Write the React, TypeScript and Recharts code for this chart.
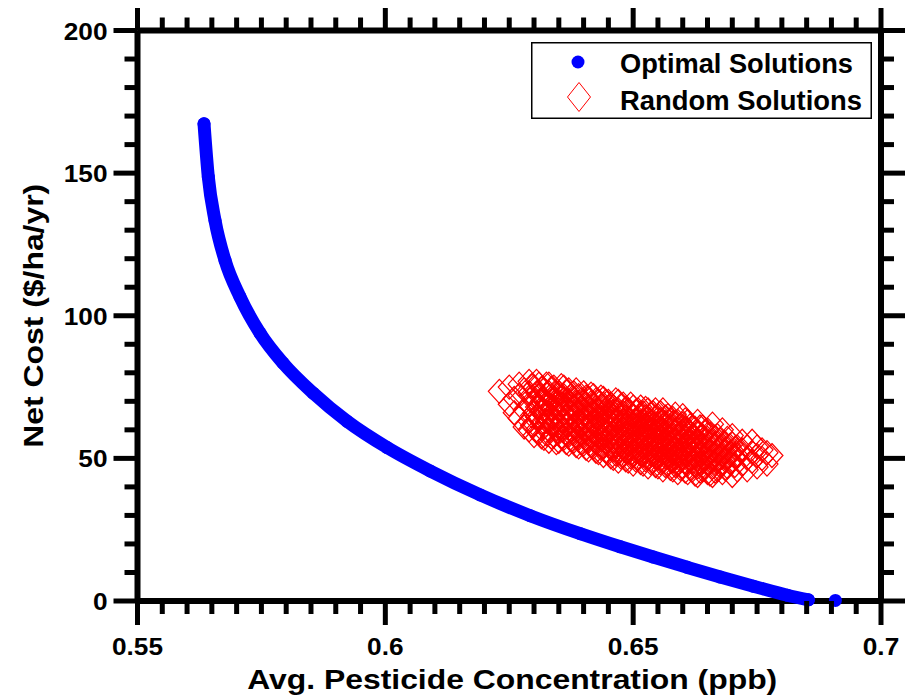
import React from 'react';
import { ScatterChart, Scatter, XAxis, YAxis, Legend } from 'recharts';

// ---- axis ticks ----
const xMajorTicks = [0.55, 0.6, 0.65, 0.7];
const xTickLabels = ['0.55', '0.6', '0.65', '0.7'];
const xMinorTicks = [
  0.555, 0.56, 0.565, 0.57, 0.575, 0.58, 0.585, 0.59, 0.595,
  0.605, 0.61, 0.615, 0.62, 0.625, 0.63, 0.635, 0.64, 0.645,
  0.655, 0.66, 0.665, 0.67, 0.675, 0.68, 0.685, 0.69, 0.695,
];
const yMajorTicks = [0, 50, 100, 150, 200];
const yTickLabels = ['0', '50', '100', '150', '200'];
const yMinorTicks = [10, 20, 30, 40, 60, 70, 80, 90, 110, 120, 130, 140, 160, 170, 180, 190];

const xTitle = 'Avg. Pesticide Concentration (ppb)';
const yTitle = 'Net Cost ($/ha/yr)';
const legendNames = ['Optimal Solutions', 'Random Solutions'];

// ---- Optimal (Pareto) solutions ----
const optimalX = [
  0.56342, 0.56429, 0.56564, 0.56766, 0.57069, 0.57473, 0.57937, 0.58543, 0.59229,
  0.60036, 0.60904, 0.61914, 0.62923, 0.63932, 0.6474, 0.65406, 0.66092, 0.66758,
  0.67424, 0.68111, 0.68535,
];
const optimalCost = [
  167.3, 148.6, 133.4, 119.4, 106.6, 93.9, 83.4, 72.9, 63.0,
  53.8, 45.6, 37.2, 29.9, 23.6, 19.0, 15.4, 11.8, 8.4,
  5.2, 2.0, 0.4,
];
const optimalEndX = [0.6908];
const optimalEndCost = [0.2];

// ---- Random solutions: cloud of diamonds, x column -> costs ----
const randomColumnsA: [number, number[]][] = [
  [0.623, [73.5]],
  [0.625, [69, 75]],
  [0.626, [66, 71]],
  [0.627, [64, 72, 76]],
  [0.628, [61, 67, 74]],
  [0.629, [60, 63, 69, 73, 77]],
  [0.63, [58, 62, 66, 70, 75]],
  [0.631, [59, 64, 68, 72, 76]],
  [0.632, [57, 61, 65, 67, 71, 74]],
  [0.633, [56, 60, 63, 66, 69, 73, 76]],
  [0.634, [58, 62, 64, 68, 71, 75]],
  [0.635, [56, 59, 61, 65, 67, 70, 73]],
  [0.636, [57, 60, 63, 66, 69, 72, 75]],
  [0.637, [55, 58, 62, 64, 67, 70, 74]],
  [0.638, [56, 59, 61, 65, 68, 71, 73]],
  [0.639, [54, 57, 60, 63, 66, 69, 72]],
  [0.64, [55, 58, 62, 64, 67, 70, 73]],
  [0.641, [53, 56, 59, 61, 65, 68, 71]],
  [0.642, [54, 57, 60, 63, 66, 69, 72]],
  [0.643, [52, 55, 58, 62, 64, 67, 70]],
  [0.644, [51, 54, 57, 60, 63, 66, 69, 71]],
  [0.645, [52, 55, 59, 61, 64, 68, 70]],
  [0.646, [50, 53, 56, 59, 62, 65, 68]],
  [0.647, [49, 52, 55, 58, 61, 64, 67, 70]],
  [0.648, [51, 54, 57, 60, 63, 66, 69]],
  [0.649, [49, 52, 55, 58, 61, 64, 67]],
  [0.65, [48, 51, 54, 57, 60, 62, 65, 68]],
  [0.651, [50, 53, 56, 59, 61, 64, 67]],
  [0.652, [48, 51, 54, 57, 60, 63, 66]],
  [0.653, [47, 50, 53, 56, 58, 61, 64, 67]],
  [0.654, [49, 52, 55, 58, 60, 63, 66]],
  [0.655, [47, 50, 53, 56, 59, 62, 65]],
  [0.656, [46, 49, 52, 55, 57, 60, 63, 67]],
  [0.657, [48, 51, 54, 56, 59, 62, 65]],
  [0.658, [46, 49, 52, 55, 58, 61, 64]],
  [0.659, [45, 48, 51, 54, 57, 60, 63]],
  [0.66, [47, 50, 53, 56, 59, 62, 65]],
  [0.661, [45, 48, 51, 54, 56, 60, 63]],
  [0.662, [46, 49, 52, 55, 58, 61]],
  [0.663, [44, 47, 50, 53, 56, 59, 63]],
  [0.664, [46, 49, 52, 55, 58, 61]],
  [0.665, [45, 48, 51, 54, 57, 60]],
  [0.666, [44, 47, 50, 53, 56, 62]],
  [0.667, [46, 49, 52, 55, 58]],
  [0.668, [45, 48, 51, 54, 60]],
  [0.669, [47, 50, 53, 57]],
  [0.67, [44, 49, 52, 55, 58]],
  [0.671, [46, 51, 54]],
  [0.672, [48, 53, 56]],
  [0.673, [46, 50, 54]],
  [0.674, [49, 52, 56]],
  [0.675, [47, 51, 54]],
  [0.676, [50, 53]],
  [0.677, [48, 52]],
  [0.678, [51]],
];
const randomColumnsB: [number, number[]][] = [
  [0.6295, [61.5, 65, 71.5, 75.5]],
  [0.6305, [60, 64.5, 68, 73, 77]],
  [0.6315, [57.5, 62.5, 66.5, 70, 74.5]],
  [0.6325, [58.5, 63, 69.5, 72.5, 76]],
  [0.6335, [57.5, 61.5, 64.5, 67.5, 71, 74.5]],
  [0.6345, [55.5, 60.5, 66, 69.5, 73]],
  [0.6355, [57.5, 63, 68.5, 71.5, 75.5]],
  [0.6365, [55.5, 58.5, 61.5, 64.5, 67.5, 70.5, 73.5]],
  [0.6375, [56.5, 60, 65.5, 68.5, 72]],
  [0.6385, [54.5, 57.5, 62.5, 66.5, 69.5, 74]],
  [0.6395, [55.5, 58.5, 61.5, 64.5, 67.5, 70.5]],
  [0.6405, [53.5, 56.5, 60.5, 63, 65.5, 68.5, 71.5]],
  [0.6415, [54.5, 57.5, 62.5, 66.5, 69.5, 72.5]],
  [0.6425, [52.5, 55.5, 58.5, 61.5, 64.5, 67.5, 70.5]],
  [0.6435, [53.5, 56.5, 60.5, 65.5, 68.5, 71.5]],
  [0.6445, [52.5, 55.5, 58.5, 61.5, 64.5, 67.5, 70]],
  [0.6455, [50.5, 53.5, 57.5, 60, 62.5, 66, 69]],
  [0.6465, [51.5, 54.5, 57.5, 60.5, 63.5, 66.5, 70.5]],
  [0.6475, [50.5, 53, 56.5, 59.5, 62.5, 65.5, 68.5]],
  [0.6485, [49.5, 52.5, 55.5, 58.5, 61.5, 64.5, 67.5]],
  [0.6495, [50.5, 53.5, 56.5, 59.5, 62.5, 65.5, 69]],
  [0.6505, [49.5, 52.5, 55.5, 58.5, 61.5, 63.5, 66.5]],
  [0.6515, [48.5, 51.5, 54.5, 57.5, 60.5, 62.5, 65.5, 68]],
  [0.6525, [49.5, 52.5, 55.5, 58.5, 61.5, 64.5, 67.5]],
  [0.6535, [48.5, 51.5, 54.5, 57.5, 59.5, 62.5, 65.5]],
  [0.6545, [47.5, 50.5, 53.5, 56.5, 59.5, 61.5, 64.5, 67]],
  [0.6555, [48.5, 51.5, 54.5, 57.5, 60.5, 63.5, 66]],
  [0.6565, [47.5, 50.5, 53.5, 56, 58.5, 61.5, 64.5]],
  [0.6575, [46.5, 49.5, 52.5, 55.5, 57.5, 60.5, 63.5]],
  [0.6585, [47.5, 50.5, 53.5, 56.5, 59.5, 62.5, 65.5]],
  [0.6595, [46.5, 49.5, 52.5, 55.5, 58.5, 61.5]],
  [0.6605, [45.5, 48.5, 51.5, 54.5, 57.5, 60.5, 63.5]],
  [0.6615, [46.5, 49.5, 52.5, 55.5, 58.5, 61.5]],
  [0.6625, [44.5, 47.5, 50.5, 53.5, 57.5, 60.5]],
  [0.6635, [45.5, 48.5, 51.5, 54.5, 57.5, 61]],
  [0.6645, [46.5, 50.5, 53.5, 56.5, 59.5]],
  [0.6655, [44.5, 49.5, 52.5, 55.5, 58.5]],
  [0.6665, [45.5, 48.5, 51.5, 54.5, 57.5]],
  [0.6675, [47.5, 50.5, 53.5, 56.5]],
  [0.6685, [46.5, 49.5, 52.5, 55.5]],
  [0.6695, [48.5, 51.5, 54.5]],
  [0.6705, [47.5, 50.5, 53.5]],
];

const optimalData = optimalX.map((x, i) => ({ x, y: optimalCost[i] }));
const optimalEndData = optimalEndX.map((x, i) => ({ x, y: optimalEndCost[i] }));
const randomData = [...randomColumnsA, ...randomColumnsB].flatMap(([x, ys]) => ys.map((y) => ({ x, y })));

const FONT = '"Liberation Sans", Arial, Helvetica, sans-serif';
const BLUE = '#0000ff';
const RED = '#ff0000';
const MAJOR_LEN = 24;
const MINOR_LEN = 13;
const TICK_W = 5;
const AXIS_W = 6;

type Side = 'top' | 'bottom' | 'left' | 'right';

function AxisTick(props: any) {
  const { x, y, payload, side, majors, labels } = props as {
    x: number; y: number; payload: { value: number }; side: Side; majors: number[]; labels: string[];
  };
  const v = payload.value;
  const idx = majors.findIndex((m) => Math.abs(m - v) < 1e-9);
  const len = idx >= 0 ? MAJOR_LEN : MINOR_LEN;
  let x2 = x;
  let y2 = y;
  if (side === 'bottom') y2 = y + len;
  if (side === 'top') y2 = y - len;
  if (side === 'left') x2 = x - len;
  if (side === 'right') x2 = x + len;
  let label: React.ReactNode = null;
  if (idx >= 0 && side === 'bottom') {
    label = (
      <text
        transform={`translate(${x},${y + 54}) scale(1.14,1)`}
        textAnchor="middle"
        fontFamily={FONT}
        fontWeight="bold"
        fontSize={23}
        fill="#000"
      >
        {labels[idx]}
      </text>
    );
  }
  if (idx >= 0 && side === 'left') {
    label = (
      <text
        transform={`translate(${x - 30},${y + 9}) scale(1.14,1)`}
        textAnchor="end"
        fontFamily={FONT}
        fontWeight="bold"
        fontSize={23}
        fill="#000"
      >
        {labels[idx]}
      </text>
    );
  }
  return (
    <g>
      <line x1={x} y1={y} x2={x2} y2={y2} stroke="#000" strokeWidth={TICK_W} />
      {label}
    </g>
  );
}

const allXTicks = [...xMajorTicks, ...xMinorTicks].sort((a, b) => a - b);
const allYTicks = [...yMajorTicks, ...yMinorTicks].sort((a, b) => a - b);

const OptimalDot = (p: any) => <circle cx={p.cx} cy={p.cy} r={6.5} fill={BLUE} />;
const NoDot = () => <g />;
const Diamond = (p: any) => {
  const { cx, cy } = p;
  return (
    <path
      d={`M${cx},${cy - 12}L${cx + 11},${cy}L${cx},${cy + 12}L${cx - 11},${cy}Z`}
      fill="none"
      stroke={RED}
      strokeWidth={1.2}
    />
  );
};

const XTitle = (props: any) => {
  const vb = props.viewBox || {};
  const cx = vb.x + vb.width / 2 + 3;
  return (
    <text
      x={cx}
      y={vb.y + 88}
      textAnchor="middle"
      fontFamily={FONT}
      fontWeight="bold"
      fontSize={27}
      textLength={530}
      lengthAdjust="spacingAndGlyphs"
      fill="#000"
    >
      {xTitle}
    </text>
  );
};

const YTitle = (props: any) => {
  const vb = props.viewBox || {};
  const cx = vb.x + 35.3;
  const cy = vb.y + vb.height / 2;
  return (
    <text
      transform={`translate(${cx},${cy}) rotate(-90)`}
      x={0}
      y={0}
      textAnchor="middle"
      fontFamily={FONT}
      fontWeight="bold"
      fontSize={27}
      textLength={264}
      lengthAdjust="spacingAndGlyphs"
      fill="#000"
    >
      {yTitle}
    </text>
  );
};

const LegendBox = () => (
  <svg width={341} height={77} style={{ display: 'block' }}>
    <rect x={0.75} y={0.75} width={339.5} height={75.5} fill="#fff" stroke="#000" strokeWidth={1.5} />
    <circle cx={47} cy={20} r={6.5} fill={BLUE} />
    <path d="M48,40.5L59.5,55L48,69.5L36.5,55Z" fill="none" stroke={RED} strokeWidth={1} />
    <text x={89} y={30.7} fontFamily={FONT} fontWeight="bold" fontSize={27} textLength={233} lengthAdjust="spacingAndGlyphs" fill="#000">
      {legendNames[0]}
    </text>
    <text x={89} y={68} fontFamily={FONT} fontWeight="bold" fontSize={27} textLength={242} lengthAdjust="spacingAndGlyphs" fill="#000">
      {legendNames[1]}
    </text>
  </svg>
);

export default function App() {
  return (
    <ScatterChart width={909} height={688} margin={{ top: 0, right: 0, bottom: 0, left: 0 }}>
      <XAxis
        xAxisId="bottom"
        orientation="bottom"
        type="number"
        dataKey="x"
        domain={[0.55, 0.7]}
        ticks={allXTicks}
        interval={0}
        height={95}
        tickSize={0}
        tickMargin={0}
        tickLine={false}
        axisLine={{ stroke: '#000', strokeWidth: AXIS_W }}
        tick={(p: any) => <AxisTick {...p} side="bottom" majors={xMajorTicks} labels={xTickLabels} />}
        label={<XTitle />}
      />
      <XAxis
        xAxisId="top"
        orientation="top"
        type="number"
        dataKey="x"
        domain={[0.55, 0.7]}
        ticks={allXTicks}
        interval={0}
        height={22.5}
        tickSize={0}
        tickMargin={0}
        tickLine={false}
        axisLine={{ stroke: '#000', strokeWidth: AXIS_W }}
        tick={(p: any) => <AxisTick {...p} side="top" majors={xMajorTicks} labels={xTickLabels} />}
      />
      <YAxis
        yAxisId="left"
        orientation="left"
        type="number"
        dataKey="y"
        domain={[0, 200]}
        ticks={allYTicks}
        interval={0}
        width={129.5}
        tickSize={0}
        tickMargin={0}
        tickLine={false}
        axisLine={{ stroke: '#000', strokeWidth: AXIS_W }}
        tick={(p: any) => <AxisTick {...p} side="left" majors={yMajorTicks} labels={yTickLabels} />}
        label={<YTitle />}
      />
      <YAxis
        yAxisId="right"
        orientation="right"
        type="number"
        dataKey="y"
        domain={[0, 200]}
        ticks={allYTicks}
        interval={0}
        width={36}
        tickSize={0}
        tickMargin={0}
        tickLine={false}
        axisLine={{ stroke: '#000', strokeWidth: AXIS_W }}
        tick={(p: any) => <AxisTick {...p} side="right" majors={yMajorTicks} labels={yTickLabels} />}
      />
      <Scatter
        name="mirror-axes"
        xAxisId="top"
        yAxisId="right"
        data={optimalData}
        shape={NoDot}
        legendType="none"
        isAnimationActive={false}
      />
      <Scatter
        name={legendNames[1]}
        xAxisId="bottom"
        yAxisId="left"
        data={randomData}
        shape={Diamond}
        isAnimationActive={false}
      />
      <Scatter
        name={legendNames[0]}
        xAxisId="bottom"
        yAxisId="left"
        data={optimalData}
        line={{ stroke: BLUE, strokeWidth: 13, strokeLinecap: 'round', strokeLinejoin: 'round' }}
        lineJointType="monotoneX"
        shape={OptimalDot}
        isAnimationActive={false}
      />
      <Scatter
        name="optimal-end"
        xAxisId="bottom"
        yAxisId="left"
        data={optimalEndData}
        shape={OptimalDot}
        legendType="none"
        isAnimationActive={false}
      />
      <Legend
        layout="vertical"
        align="center"
        verticalAlign="middle"
        wrapperStyle={{ position: 'absolute', left: 523, top: 34, width: 341, height: 77 }}
        content={() => <LegendBox />}
      />
    </ScatterChart>
  );
}
